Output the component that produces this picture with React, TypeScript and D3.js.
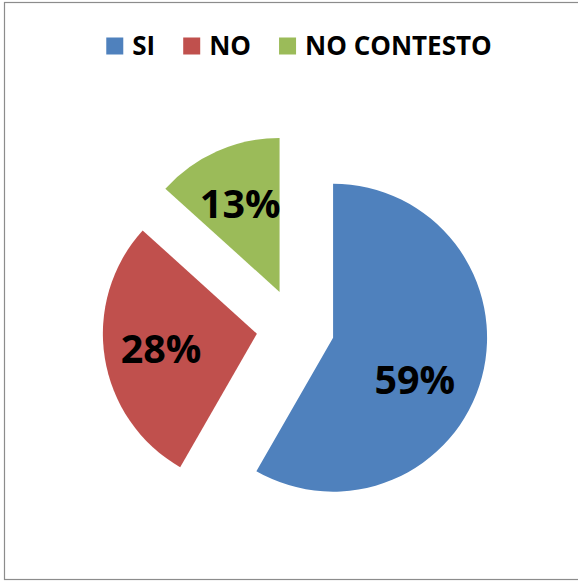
import React, { useEffect, useRef } from 'react';
import * as d3 from 'd3';

// Chart data
const categories = ['SI', 'NO', 'NO CONTESTO'];
const shares = [58.3, 28.4, 13.3];
const labels = ['59%', '28%', '13%'];
const colors = ['#4F81BD', '#C0504D', '#9BBB59'];

const WIDTH = 578;
const HEIGHT = 581;
const FONT = '"Open Sans", "Liberation Sans", sans-serif';

const App: React.FC = () => {
  const svgRef = useRef<SVGSVGElement>(null);

  useEffect(() => {
    if (!svgRef.current) return;
    const svg = d3.select(svgRef.current);
    svg.selectAll('*').remove();

    // chart frame
    svg.append('rect')
      .attr('x', 4.5)
      .attr('y', 2.5)
      .attr('width', 590)
      .attr('height', 577)
      .attr('fill', '#fff')
      .attr('stroke', '#8c8c8c')
      .attr('stroke-width', 1.2);

    const cx = 295.4;
    const cy = 327.6;
    const radius = 154;
    const explode = 39;

    const pie = d3.pie<number>().sort(null).startAngle(0).endAngle(2 * Math.PI);
    const arcs = pie(shares);
    const arc = d3.arc<d3.PieArcDatum<number>>().innerRadius(0).outerRadius(radius);

    const g = svg.append('g').attr('transform', `translate(${cx},${cy})`);

    const slices = g.selectAll('g.slice')
      .data(arcs)
      .enter()
      .append('g')
      .attr('class', 'slice')
      .attr('transform', d => {
        const mid = (d.startAngle + d.endAngle) / 2;
        return `translate(${explode * Math.sin(mid)},${-explode * Math.cos(mid)})`;
      });

    slices.append('path')
      .attr('d', arc)
      .attr('fill', (_, i) => colors[i]);

    // data labels, small nudge on the big slice like the original
    const nudge: [number, number][] = [[-12, 17], [0, 0], [0, 0]];
    slices.append('text')
      .attr('x', (d, i) => {
        const mid = (d.startAngle + d.endAngle) / 2;
        return radius * 0.63 * Math.sin(mid) + nudge[i][0];
      })
      .attr('y', (d, i) => {
        const mid = (d.startAngle + d.endAngle) / 2;
        return -radius * 0.63 * Math.cos(mid) + nudge[i][1];
      })
      .attr('dy', '0.36em')
      .attr('text-anchor', 'middle')
      .attr('font-family', FONT)
      .attr('font-weight', 700)
      .attr('font-size', 39.5)
      .attr('fill', '#000')
      .text((_, i) => labels[i]);

    // legend, laid out left to right and centred
    const legend = svg.append('g');
    const box = 17;
    const textGap = 9;
    const itemGap = 28;
    let x = 0;
    categories.forEach((name, i) => {
      legend.append('rect')
        .attr('x', x)
        .attr('y', 37.5)
        .attr('width', box)
        .attr('height', box)
        .attr('fill', colors[i]);
      const t = legend.append('text')
        .attr('x', x + box + textGap)
        .attr('y', 54.5)
        .attr('font-family', FONT)
        .attr('font-weight', 700)
        .attr('font-size', 26)
        .attr('fill', '#000')
        .text(name);
      const w = (t.node() as SVGTextElement).getComputedTextLength();
      x += box + textGap + w + itemGap;
    });
    const total = x - itemGap;
    legend.attr('transform', `translate(${299 - total / 2},0)`);
  }, []);

  return (
    <svg
      ref={svgRef}
      width={WIDTH}
      height={HEIGHT}
      style={{ position: 'absolute', left: 0, top: 0, background: '#fff' }}
    />
  );
};

export default App;
